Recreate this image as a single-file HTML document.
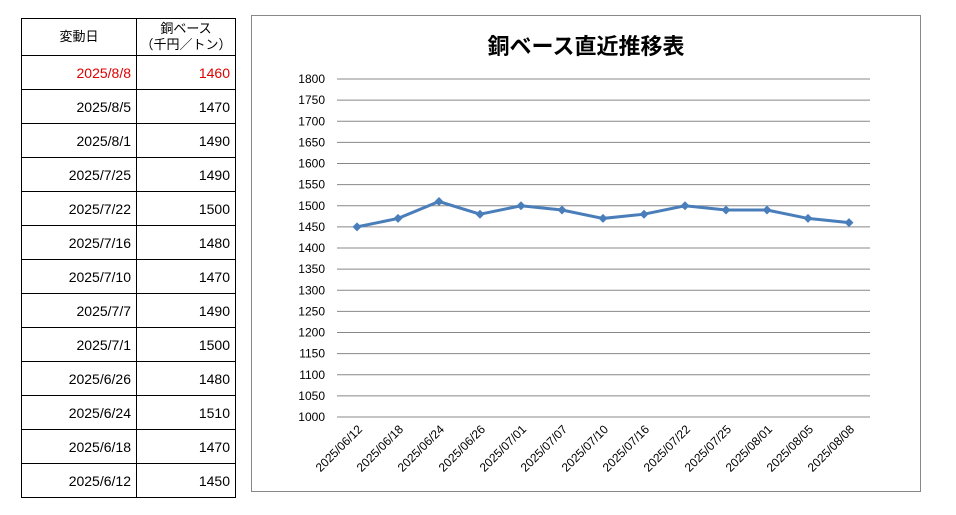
<!DOCTYPE html>
<html><head><meta charset="utf-8"><style>
body{margin:0;background:#fff;width:956px;height:515px;overflow:hidden;font-family:"Liberation Sans","Noto Sans CJK JP",sans-serif}
table{position:absolute;left:21px;top:18px;border-collapse:collapse;font-size:14px;table-layout:fixed;width:214px}
td{border:1px solid #000;padding:0 5px;height:33px;text-align:right;white-space:nowrap;overflow:hidden}
tr.h td{text-align:center;height:36px;font-size:13px;line-height:16px;padding:0}
.r td{color:#e00000}
</style></head><body>
<table>
<colgroup><col style="width:115px"><col style="width:99px"></colgroup>
<tr class="h"><td>変動日</td><td>銅ベース<br>（千円／トン）</td></tr>
<tr class="r"><td>2025/8/8</td><td>1460</td></tr>
<tr><td>2025/8/5</td><td>1470</td></tr>
<tr><td>2025/8/1</td><td>1490</td></tr>
<tr><td>2025/7/25</td><td>1490</td></tr>
<tr><td>2025/7/22</td><td>1500</td></tr>
<tr><td>2025/7/16</td><td>1480</td></tr>
<tr><td>2025/7/10</td><td>1470</td></tr>
<tr><td>2025/7/7</td><td>1490</td></tr>
<tr><td>2025/7/1</td><td>1500</td></tr>
<tr><td>2025/6/26</td><td>1480</td></tr>
<tr><td>2025/6/24</td><td>1510</td></tr>
<tr><td>2025/6/18</td><td>1470</td></tr>
<tr><td>2025/6/12</td><td>1450</td></tr>
</table>
<svg width="956" height="515" style="position:absolute;left:0;top:0" font-family="Liberation Sans, Noto Sans CJK JP, sans-serif">
<rect x="251.5" y="15.5" width="669" height="476" fill="none" stroke="#888"/>
<text x="586" y="54" font-size="22" font-weight="bold" text-anchor="middle">銅ベース直近推移表</text>
<g id="g"></g>
</svg>
<script>
var g=document.getElementById('g'),s='';
function Y(v){return 417-(v-1000)*21.125/50;}
for(var v=1000;v<=1800;v+=50){var y=Y(v);s+='<line x1="337" x2="870" y1="'+y+'" y2="'+y+'" stroke="#888"/><text x="325" y="'+(y+4)+'" font-size="12" text-anchor="end">'+v+'</text>';}
var d=['2025/06/12','2025/06/18','2025/06/24','2025/06/26','2025/07/01','2025/07/07','2025/07/10','2025/07/16','2025/07/22','2025/07/25','2025/08/01','2025/08/05','2025/08/08'];
var val=[1450,1470,1510,1480,1500,1490,1470,1480,1500,1490,1490,1470,1460];
var pts=[];
for(var i=0;i<13;i++){var x=357+i*41.0;pts.push(x+','+Y(val[i]));
s+='<text transform="translate('+(x+6)+',430) rotate(-45)" font-size="12" text-anchor="end">'+d[i]+'</text>';}
s+='<polyline points="'+pts.join(' ')+'" fill="none" stroke="#4a7ebb" stroke-width="3"/>';
for(var i=0;i<13;i++){var x=357+i*41.0,y=Y(val[i]);s+='<path d="M'+x+' '+(y-4.5)+'L'+(x+4.5)+' '+y+'L'+x+' '+(y+4.5)+'L'+(x-4.5)+' '+y+'Z" fill="#4a7ebb"/>';}
g.innerHTML=s;
</script>
</body></html>
